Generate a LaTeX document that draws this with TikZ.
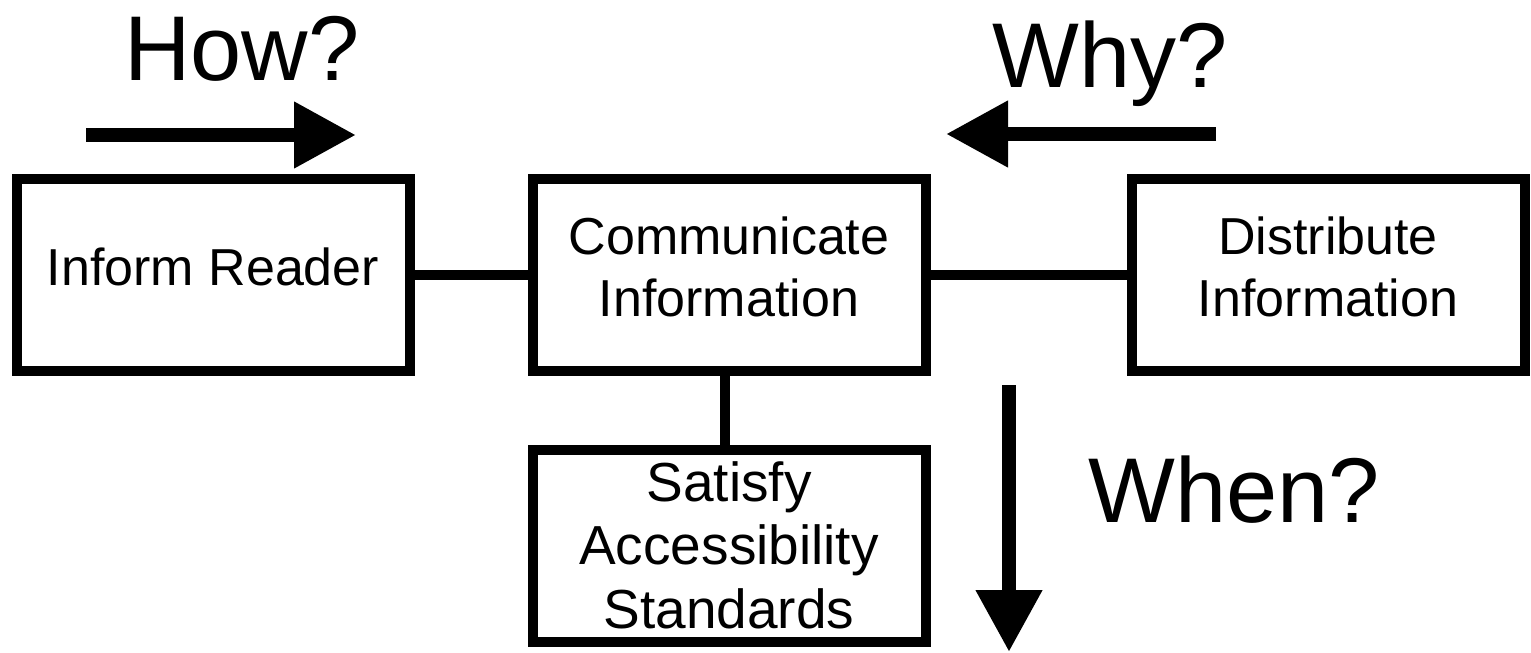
\documentclass[tikz,border=0pt]{standalone}
\usepackage{fontspec}
\setmainfont{Liberation Sans}
\usetikzlibrary{arrows.meta}
\begin{document}
\begin{tikzpicture}[x=1pt,y=-1pt,
  box/.style={draw=black, line width=10pt, minimum width=393pt, minimum height=192pt,
    inner sep=0pt, align=center, font=\fontsize{52}{62}\selectfont, text depth=16pt},
  link/.style={line width=10pt},
  bigarrow/.style={line width=14pt, -{Triangle[length=62pt,width=63pt]}},
  question/.style={font=\fontsize{92}{110}\selectfont, anchor=base, inner sep=0pt}]
\useasboundingbox (0,0) rectangle (1531,653);
% boxes
\node[box, text depth=17pt] (inform) at (213,275) {Inform Reader};
\node[box] (communicate) at (729,275) {Communicate\\Information};
\node[box] (distribute) at (1328,275) {Distribute\\Information};
\node[box, font=\fontsize{55}{63.5}\selectfont, text depth=2pt] (satisfy) at (729,546)
  {Satisfy\\Accessibility\\Standards};
% connectors
\draw[link] (inform.east) -- (communicate.west);
\draw[link] (communicate.east) -- (distribute.west);
\draw[link] ([xshift=-4pt]communicate.south) -- ([xshift=-4pt]satisfy.north);
% questions
\node[question] (how) at (242,80) {How?};
\node[question] (why) at (1110,87) {Why?};
\node[question] (when) at (1234,522) {When?};
% arrows
\coordinate (howS) at (86,135);
\coordinate (howE) at (356,135);
\coordinate (whyS) at (1216,134);
\coordinate (whyE) at (946,134);
\coordinate (whenS) at (1009,385);
\coordinate (whenE) at (1009,652);
\draw[bigarrow] (howS) -- (howE);
\draw[bigarrow] (whyS) -- (whyE);
\draw[bigarrow] (whenS) -- (whenE);
\end{tikzpicture}
\end{document}
